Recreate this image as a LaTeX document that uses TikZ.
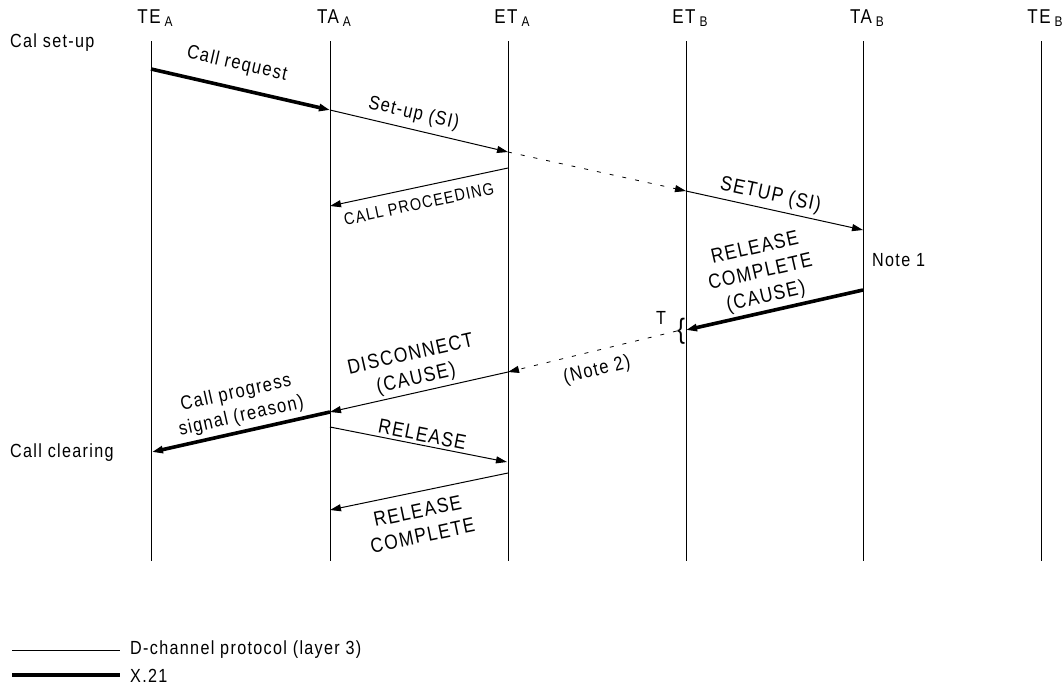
\documentclass[tikz,border=0pt]{standalone}
\usepackage{fontspec}
\setmainfont{Liberation Sans}[FakeStretch=0.85,LetterSpace=7]
\usetikzlibrary{arrows.meta}
\tikzset{
  >={Triangle[length=11pt,width=7pt]},
  life/.style ={draw,line width=0.8pt},
  dline/.style={line width=1pt},
  xline/.style={line width=3.6pt},
  relay/.style={line width=0.8pt,dash pattern=on 4pt off 9pt},
  lbl/.style  ={font=\fontsize{19.5}{24}\selectfont,inner sep=0pt,align=center},
  caps/.style ={font=\fontsize{20.5}{25}\selectfont,inner sep=0pt,align=center},
  head/.style ={font=\fontsize{20}{20}\selectfont,inner sep=0pt},
  note/.style ={font=\fontsize{19}{20}\selectfont,inner sep=0pt,anchor=west},
}
\newcommand{\sub}[1]{\hspace{4pt}\raisebox{-3pt}{\fontsize{14}{14}\selectfont #1}}

\begin{document}
\begin{tikzpicture}[x=1pt,y=-1pt]
\useasboundingbox (0,0) rectangle (1063,691);
% ---- lifelines
\foreach \n/\x/\t/\s in {teA/151/TE/A, taA/330/TA/A, etA/508/ET/A,
                         etB/686/ET/B, taB/863/TA/B, teB/1041/TE/B} {
  \node[head] (\n) at (\x+4,18) {\t\sub{\s}};
  \coordinate (\n-top) at (\x,41);
  \coordinate (\n-bot) at (\x,561);
  \draw[life] (\n-top) -- (\n-bot);
}
\node[note] (setup) at (10,43) {Cal set-up};
\node[note] (clear) at (10,453) {Call clearing};

% ---- message end points
\foreach \n/\x/\y in {cr/151/69, su/330/110, sb/508/152, sp/686/191, st/863/230,
                      cp1/508/168, cp2/330/206, rc1/863/290, rc2/686/330,
                      dc1/508/372, dc2/330/412, pg/152/452,
                      rl1/330/427, rl2/507/462, rk1/508/473, rk2/330/510}
  \coordinate (\n) at (\x,\y);

% ---- set-up
\draw[xline,->] (cr) -- node[lbl,sloped,above=13pt,pos=.45] {Call request} (su);
\draw[dline,->] (su) -- node[lbl,sloped,above=6pt,pos=.45] {Set-up (SI)} (sb);
\draw[relay,->] (sb) -- (sp);
\draw[dline,->] (cp1) -- node[caps,font=\fontsize{17}{20}\selectfont,sloped,below=10pt,pos=.52] {CALL PROCEEDING} (cp2);
\draw[dline,->] (sp) -- node[caps,sloped,above=4pt,pos=.46] {SETUP (SI)} (st);
\node[note] (note1) at (872,260) {Note 1};

% ---- clearing
\draw[xline,->] (rc1) -- node[caps,sloped,above=3pt,pos=.53] {RELEASE\\COMPLETE\\(CAUSE)} (rc2);
\node[note,anchor=center] (tmr) at (661,318) {T};
\node[inner sep=0pt,font=\fontsize{28}{28}\selectfont\addfontfeatures{LetterSpace=0}] (brc) at (681,331) {\{};
\draw[relay,->] (brc.west) -- node[lbl,sloped,below=10pt,pos=.5] {(Note 2)} (dc1);
\draw[dline,->] (dc1) -- node[caps,sloped,above=3pt,pos=.5] {DISCONNECT\\(CAUSE)} (dc2);
\draw[xline,->] (dc2) -- node[lbl,sloped,above=4pt,pos=.48] {Call progress\\signal (reason)} (pg);
\draw[dline,->] (rl1) -- node[caps,sloped,above=3pt,pos=.51] {RELEASE} (rl2);
\draw[dline,->] (rk1) -- node[caps,sloped,below=11pt,pos=.53] {RELEASE\\COMPLETE} (rk2);

% ---- legend
\coordinate (lg1a) at (12,650); \coordinate (lg1b) at (120,650);
\coordinate (lg2a) at (12,675); \coordinate (lg2b) at (120,675);
\draw[dline] (lg1a) -- (lg1b);
\draw[xline] (lg2a) -- (lg2b);
\node[note] (lgt1) at (130,650) {D-channel protocol (layer 3)};
\node[note] (lgt2) at (130,676) {X.21};
\end{tikzpicture}
\end{document}
